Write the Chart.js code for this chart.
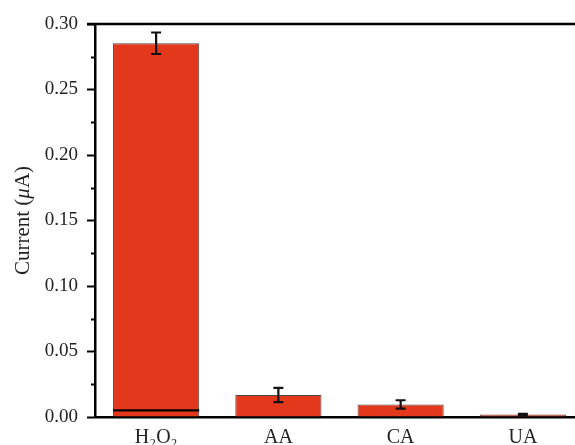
<!DOCTYPE html>
<html>
<head>
<meta charset="utf-8">
<script src="https://cdn.jsdelivr.net/npm/chart.js@4"></script>
<style>
  html, body { margin: 0; padding: 0; background: #fff; overflow: hidden; }
  #wrap { position: relative; width: 584px; height: 445px; }
</style>
</head>
<body>
<div id="wrap"><canvas id="c"></canvas></div>
<script>
// datos
var categorias = ["H₂O₂", "AA", "CA", "UA"];
var corriente  = [0.2853, 0.0168, 0.0096, 0.0019];
var errores    = [0.0082, 0.0055, 0.0032, 0.0006];
// linea negra dentro de la barra de H2O2
var marcaBaja  = [[0.0042, 0.0060], null, null, null];
var ticksMenores = [0.025, 0.075, 0.125, 0.175, 0.225, 0.275];
var tituloY = ["Current (", "μ", "A)"];  // la mu va en cursiva

var serif = "'Liberation Serif', 'DejaVu Serif', serif";

// barras de error, marcas menores, titulo del eje y linea superior del marco
var extras = {
  id: "extras",
  afterDatasetsDraw: function(chart) {
    var ctx = chart.ctx, y = chart.scales.y, area = chart.chartArea;
    var meta = chart.getDatasetMeta(0);
    ctx.save();
    ctx.strokeStyle = "#111";
    ctx.lineWidth = 2.2;
    meta.data.forEach(function(bar, i) {
      var yt = y.getPixelForValue(corriente[i] + errores[i]);
      var yb = y.getPixelForValue(corriente[i] - errores[i]);
      ctx.beginPath();
      ctx.moveTo(bar.x, yt); ctx.lineTo(bar.x, yb);
      ctx.moveTo(bar.x - 5, yt); ctx.lineTo(bar.x + 5, yt);
      ctx.moveTo(bar.x - 5, yb); ctx.lineTo(bar.x + 5, yb);
      ctx.stroke();
    });
    // ticks menores
    ctx.strokeStyle = "#000";
    ctx.lineWidth = 2;
    ticksMenores.forEach(function(v) {
      var py = Math.round(y.getPixelForValue(v)) + 0.5;
      ctx.beginPath();
      ctx.moveTo(area.left - 4, py); ctx.lineTo(area.left, py);
      ctx.stroke();
    });
    // linea superior
    ctx.lineWidth = 2.5;
    ctx.beginPath();
    ctx.moveTo(area.left - 8, area.top);
    ctx.lineTo(chart.width, area.top);
    ctx.stroke();

    // titulo del eje Y con mu en cursiva
    var fuentes = ["21px " + serif, "italic 21px " + serif, "21px " + serif];
    var anchos = tituloY.map(function(t, k) { ctx.font = fuentes[k]; return ctx.measureText(t).width; });
    var total = anchos.reduce(function(a, b) { return a + b; }, 0);
    ctx.translate(23, (area.top + area.bottom) / 2);
    ctx.rotate(-Math.PI / 2);
    ctx.fillStyle = "#222";
    ctx.textBaseline = "middle";
    ctx.textAlign = "left";
    var x0 = -total / 2;
    tituloY.forEach(function(t, k) {
      ctx.font = fuentes[k];
      ctx.fillText(t, x0, 0);
      x0 += anchos[k];
    });
    ctx.restore();
  }
};

new Chart(document.getElementById("c"), {
  type: "bar",
  data: {
    labels: categorias,
    datasets: [
      { data: corriente, backgroundColor: "#E4381D", borderColor: "#4a4a4a", borderWidth: 1,
        categoryPercentage: 1, barPercentage: 0.705, grouped: false, order: 2 },
      { data: marcaBaja, backgroundColor: "#000", borderWidth: 0,
        categoryPercentage: 1, barPercentage: 0.705, grouped: false, order: 1 }
    ]
  },
  plugins: [extras],
  options: {
    responsive: true, maintainAspectRatio: false, animation: false,
    layout: { padding: { top: 24, left: 0, right: 0, bottom: 0 } },
    plugins: { legend: { display: false }, tooltip: { enabled: false } },
    scales: {
      x: {
        grid: { display: false },
        border: { color: "#000", width: 2.5 },
        ticks: { color: "#222", font: { family: serif, size: 20 }, padding: 1 },
        afterFit: function(s) { s.height = 28; }
      },
      y: {
        min: 0, max: 0.30,
        grid: { drawOnChartArea: false, color: "#000", tickLength: 8, tickWidth: 2 },
        border: { color: "#000", width: 2.5 },
        ticks: { stepSize: 0.05, color: "#222", font: { family: serif, size: 19 }, padding: 9,
                 callback: function(v) { return v.toFixed(2); } },
        title: { display: false, text: "Current (μA)" },
        afterFit: function(s) { s.width = 95; }
      }
    }
  }
});
</script>
</body>
</html>
